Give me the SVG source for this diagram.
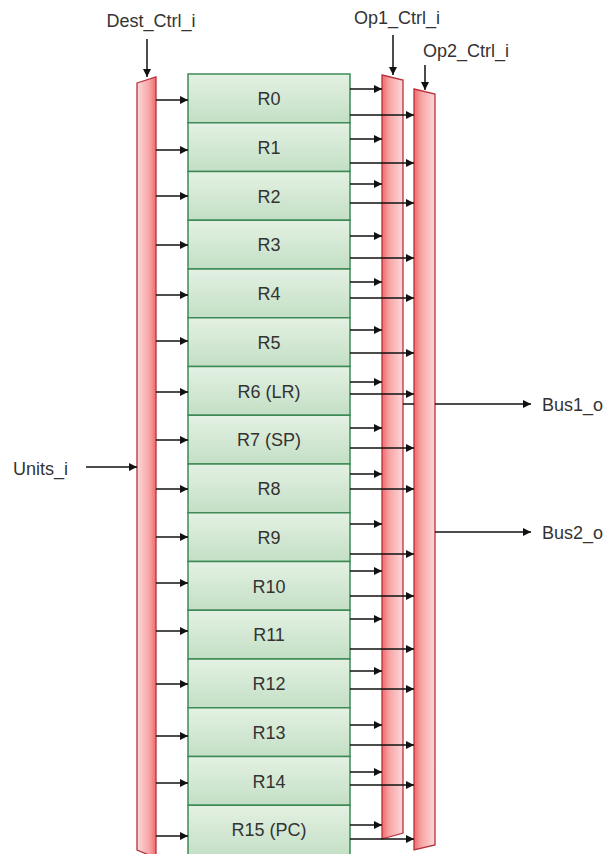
<svg xmlns="http://www.w3.org/2000/svg" width="607" height="854" viewBox="0 0 607 854">
<defs>
<linearGradient id="gReg" x1="0" y1="0" x2="0" y2="1">
<stop offset="0" stop-color="#e4f1e3"/>
<stop offset="1" stop-color="#c3dfc5"/>
</linearGradient>
<linearGradient id="gMux" x1="0" y1="0" x2="1" y2="0">
<stop offset="0" stop-color="#f06a6c"/>
<stop offset="0.35" stop-color="#f7a4a5"/>
<stop offset="1" stop-color="#fcd9d9"/>
</linearGradient>
<linearGradient id="gMuxL" x1="1" y1="0" x2="0" y2="0">
<stop offset="0" stop-color="#f06a6c"/>
<stop offset="0.35" stop-color="#f7a4a5"/>
<stop offset="1" stop-color="#fcd9d9"/>
</linearGradient>
<marker id="ah" viewBox="0 0 10 10" refX="10" refY="5" markerWidth="9" markerHeight="8" markerUnits="userSpaceOnUse" orient="auto">
<path d="M0,0 L10,5 L0,10 z" fill="#111"/>
</marker>
</defs>
<style>
.reg{fill:url(#gReg);stroke:#3e8a57;stroke-width:1.5}
.mux{stroke:#b8323c;stroke-width:1.3}
.t{font-family:"Liberation Sans",Arial,sans-serif;font-size:18px;fill:#333333}
.rt{font-family:"Liberation Sans",Arial,sans-serif;font-size:18px;fill:#333333;text-anchor:middle}
.c{stroke:#111;stroke-width:1.5;fill:none}
.ca{stroke:#111;stroke-width:1.5;fill:none;marker-end:url(#ah)}
</style>
<rect width="607" height="854" fill="#ffffff"/>

<g id="labels">
<text class="t" x="151" y="27" text-anchor="middle">Dest_Ctrl_i</text>
<text class="t" x="397" y="24" text-anchor="middle">Op1_Ctrl_i</text>
<text class="t" x="466" y="57" text-anchor="middle">Op2_Ctrl_i</text>
<text class="t" x="13" y="475">Units_i</text>
<text class="t" x="542" y="411">Bus1_o</text>
<text class="t" x="542" y="539">Bus2_o</text>
</g>

<g id="dest_mux"><polygon class="mux" fill="url(#gMuxL)" points="137,83 156,77 156,858 137,850"/></g>
<g id="op1_mux"><polygon class="mux" fill="url(#gMux)" points="382,75 403,80 403,833 382,839"/></g>
<g id="op2_mux"><polygon class="mux" fill="url(#gMux)" points="414,89 435,94 435,845 414,850"/></g>

<g id="R0"><rect class="reg" x="188" y="74" width="162" height="48.75"/><text class="rt" x="269" y="105">R0</text></g>
<g id="R1"><rect class="reg" x="188" y="122.75" width="162" height="48.75"/><text class="rt" x="269" y="153.7">R1</text></g>
<g id="R2"><rect class="reg" x="188" y="171.5" width="162" height="48.75"/><text class="rt" x="269" y="202.5">R2</text></g>
<g id="R3"><rect class="reg" x="188" y="220.25" width="162" height="48.75"/><text class="rt" x="269" y="251.2">R3</text></g>
<g id="R4"><rect class="reg" x="188" y="269" width="162" height="48.75"/><text class="rt" x="269" y="300">R4</text></g>
<g id="R5"><rect class="reg" x="188" y="317.75" width="162" height="48.75"/><text class="rt" x="269" y="348.7">R5</text></g>
<g id="R6"><rect class="reg" x="188" y="366.5" width="162" height="48.75"/><text class="rt" x="269" y="397.5">R6 (LR)</text></g>
<g id="R7"><rect class="reg" x="188" y="415.25" width="162" height="48.75"/><text class="rt" x="269" y="446.2">R7 (SP)</text></g>
<g id="R8"><rect class="reg" x="188" y="464" width="162" height="48.75"/><text class="rt" x="269" y="495">R8</text></g>
<g id="R9"><rect class="reg" x="188" y="512.75" width="162" height="48.75"/><text class="rt" x="269" y="543.7">R9</text></g>
<g id="R10"><rect class="reg" x="188" y="561.5" width="162" height="48.75"/><text class="rt" x="269" y="592.5">R10</text></g>
<g id="R11"><rect class="reg" x="188" y="610.25" width="162" height="48.75"/><text class="rt" x="269" y="641.2">R11</text></g>
<g id="R12"><rect class="reg" x="188" y="659" width="162" height="48.75"/><text class="rt" x="269" y="690">R12</text></g>
<g id="R13"><rect class="reg" x="188" y="707.75" width="162" height="48.75"/><text class="rt" x="269" y="738.7">R13</text></g>
<g id="R14"><rect class="reg" x="188" y="756.5" width="162" height="48.75"/><text class="rt" x="269" y="787.5">R14</text></g>
<g id="R15"><rect class="reg" x="188" y="805.25" width="162" height="52"/><text class="rt" x="269" y="836.2">R15 (PC)</text></g>

<g id="connectors">
<path class="ca" d="M147,39 V77"/>
<path class="ca" d="M393,35 V75"/>
<path class="ca" d="M425,65 V90"/>
<path class="ca" d="M86,467 H137"/>
<path class="c" d="M403,404 H414"/>
<path class="ca" d="M435,404 H531"/>
<path class="ca" d="M435,532 H531"/>
<path class="ca" d="M156,100 H188"/>
<path class="ca" d="M156,150 H188"/>
<path class="ca" d="M156,196 H188"/>
<path class="ca" d="M156,245 H188"/>
<path class="ca" d="M156,295 H188"/>
<path class="ca" d="M156,341 H188"/>
<path class="ca" d="M156,392 H188"/>
<path class="ca" d="M156,440 H188"/>
<path class="ca" d="M156,489 H188"/>
<path class="ca" d="M156,537 H188"/>
<path class="ca" d="M156,583 H188"/>
<path class="ca" d="M156,631 H188"/>
<path class="ca" d="M156,684 H188"/>
<path class="ca" d="M156,736 H188"/>
<path class="ca" d="M156,783 H188"/>
<path class="ca" d="M156,836 H188"/>
<path class="ca" d="M350,89 H382"/>
<path class="ca" d="M350,139 H382"/>
<path class="ca" d="M350,184 H382"/>
<path class="ca" d="M350,236 H382"/>
<path class="ca" d="M350,282 H382"/>
<path class="ca" d="M350,330 H382"/>
<path class="ca" d="M350,382 H382"/>
<path class="ca" d="M350,428 H382"/>
<path class="ca" d="M350,474 H382"/>
<path class="ca" d="M350,524 H382"/>
<path class="ca" d="M350,571 H382"/>
<path class="ca" d="M350,619 H382"/>
<path class="ca" d="M350,671 H382"/>
<path class="ca" d="M350,725 H382"/>
<path class="ca" d="M350,772 H382"/>
<path class="ca" d="M350,825 H382"/>
<path class="ca" d="M350,115 H414"/>
<path class="ca" d="M350,163 H414"/>
<path class="ca" d="M350,203 H414"/>
<path class="ca" d="M350,258 H414"/>
<path class="ca" d="M350,298 H414"/>
<path class="ca" d="M350,353 H414"/>
<path class="ca" d="M350,394 H414"/>
<path class="ca" d="M350,448 H414"/>
<path class="ca" d="M350,489 H414"/>
<path class="ca" d="M350,554 H414"/>
<path class="ca" d="M350,596 H414"/>
<path class="ca" d="M350,649 H414"/>
<path class="ca" d="M350,689 H414"/>
<path class="ca" d="M350,745 H414"/>
<path class="ca" d="M350,785 H414"/>
<path class="ca" d="M350,839 H414"/>
</g>
</svg>
